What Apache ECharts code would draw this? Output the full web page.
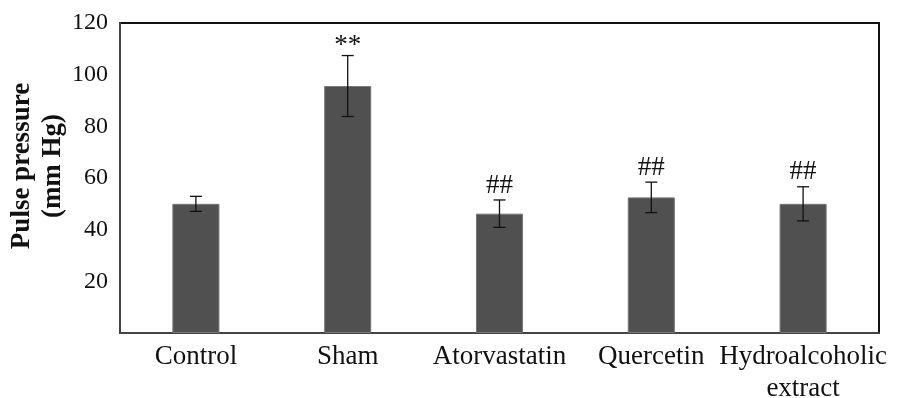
<!DOCTYPE html>
<html>
<head>
<meta charset="utf-8">
<script src="https://cdn.jsdelivr.net/npm/echarts@6/dist/echarts.min.js"></script>
<style>
  html, body { margin: 0; padding: 0; background: #fff; }
  #chart { width: 898px; height: 398px; }
</style>
</head>
<body>
<div id="chart"></div>
<script>
// Pulse pressure per group (mean ± error), with significance marks
const categories = ['Control', 'Sham', 'Atorvastatin', 'Quercetin', 'Hydroalcoholic\nextract'];
const means = [50, 95.6, 46.2, 52.5, 50];
const errors = [2.9, 11.8, 5.3, 5.9, 6.6];
const marks = ['', '**', '##', '##', '##'];
const yTicks = [0, 20, 40, 60, 80, 100, 120];

const FONT = '"Liberation Serif", "Times New Roman", serif';

const chart = echarts.init(document.getElementById('chart'));

const errData = means.map((m, i) => [i, m, errors[i], marks[i]]);

chart.setOption({
  animation: false,
  grid: {
    left: 120, right: 19, top: 23, bottom: 65,
    outerBoundsMode: 'none', containLabel: false,
    show: true, borderColor: '#111', borderWidth: 2, backgroundColor: 'transparent'
  },
  xAxis: {
    type: 'category',
    data: categories,
    axisLine: { lineStyle: { color: '#444', width: 2 } },
    axisTick: { show: false },
    axisLabel: {
      interval: 0, color: '#111', fontFamily: FONT, fontSize: 27,
      margin: 8, lineHeight: 32
    }
  },
  yAxis: {
    type: 'value',
    min: yTicks[0], max: yTicks[yTicks.length - 1], interval: 20,
    axisLine: { show: true, lineStyle: { color: '#444', width: 2 } },
    axisTick: { show: false },
    splitLine: { show: false },
    axisLabel: {
      color: '#111', fontFamily: FONT, fontSize: 24, margin: 12,
      formatter: v => (v === 0 ? '' : String(v))
    }
  },
  graphic: [{
    type: 'text',
    x: 38, y: 166,
    rotation: Math.PI / 2,
    style: {
      text: 'Pulse pressure\n(mm Hg)',
      fontFamily: FONT, fontSize: 27, fontWeight: 'bold',
      fill: '#111', align: 'center', verticalAlign: 'middle',
      lineHeight: 31
    }
  }],
  series: [
    {
      type: 'bar',
      data: means,
      barWidth: '31%',
      itemStyle: { color: '#505050', borderColor: '#777', borderWidth: 1 }
    },
    {
      type: 'custom',
      data: errData,
      z: 10,
      renderItem: function (params, api) {
        const i = api.value(0), m = api.value(1), e = api.value(2);
        const top = api.coord([i, m + e]);
        const bot = api.coord([i, m - e]);
        const x = top[0], hw = 6;
        const style = { stroke: '#111', lineWidth: 1.3 };
        const children = [
          { type: 'line', shape: { x1: x, y1: top[1], x2: x, y2: bot[1] }, style },
          { type: 'line', shape: { x1: x - hw, y1: top[1], x2: x + hw, y2: top[1] }, style },
          { type: 'line', shape: { x1: x - hw, y1: bot[1], x2: x + hw, y2: bot[1] }, style }
        ];
        const mk = marks[params.dataIndex];
        if (mk) {
          children.push({
            type: 'text',
            style: {
              text: mk, x: x, y: top[1] + (mk === '**' ? 4 : -1),
              fontFamily: FONT, fontSize: 27,
              fill: '#111', align: 'center', verticalAlign: 'bottom'
            }
          });
        }
        return { type: 'group', children };
      }
    }
  ]
});
</script>
</body>
</html>
